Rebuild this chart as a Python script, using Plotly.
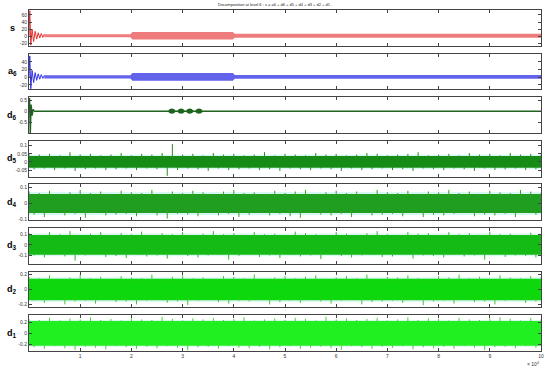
import numpy as np
import plotly.graph_objects as go
from plotly.subplots import make_subplots

x_ticks = [10000 * k for k in range(1, 11)]
x_tick_labels = ['1', '2', '3', '4', '5', '6', '7', '8', '9', '10']

# s : start transient, then envelope of the steady oscillation
s_transient_x = [0, 150, 350, 600, 900, 1200, 1500, 1800, 2100, 2400, 2700, 3000]
s_transient_y = [0, 72, -25, 20, -15, 14, -8, 10, -5, 8, -3, 6]
s_band_x = [3000, 19800, 20200, 39800, 40200, 100000]
s_band_hi = [6, 6, 12, 12, 7, 7]
s_band_lo = [-3, -3, -9, -9, -4, -4]

# a6
a6_transient_x = [0, 150, 350, 600, 900, 1200, 1500, 1800, 2100, 2400, 2700, 3000]
a6_transient_y = [0, 56, -30, 18, -14, 12, -8, 9, -5, 7, -3, 5]
a6_band_x = [3000, 19800, 20200, 39800, 40200, 100000]
a6_band_hi = [5, 5, 11, 11, 6, 6]
a6_band_lo = [-3, -3, -9, -9, -4, -4]

# d6 : start transient, thin line, four bursts near 3e4
d6_transient_x = [0, 100, 250, 400, 600, 800, 1000]
d6_transient_y = [0, 0.6, -1.0, 0.3, -0.2, 0.08, 0]
d6_env_x = [1000, 27200, 27500, 27900, 28300, 28600,
            29000, 29300, 29700, 30100, 30400,
            30700, 31000, 31400, 31800, 32100,
            32500, 32800, 33200, 33600, 33900, 100000]
d6_env_hi = [0.035, 0.035, 0.1, 0.12, 0.1, 0.035,
             0.035, 0.1, 0.12, 0.1, 0.035,
             0.035, 0.1, 0.12, 0.1, 0.035,
             0.035, 0.1, 0.12, 0.1, 0.035, 0.035]
d6_env_lo = [-0.035, -0.035, -0.1, -0.12, -0.1, -0.035,
             -0.035, -0.1, -0.12, -0.1, -0.035,
             -0.035, -0.1, -0.12, -0.1, -0.035,
             -0.035, -0.1, -0.12, -0.1, -0.035, -0.035]

# d5..d1 : local maxima (every 2000 samples) and minima (offset by 1000)
d5_up = [0.055, 0.045, 0.05, 0.04, 0.06, 0.045, 0.05, 0.04, 0.045, 0.055,
         0.04, 0.05, 0.045, 0.055, 0.11, 0.045, 0.05, 0.04, 0.055, 0.045,
         0.05, 0.04, 0.045, 0.06, 0.04, 0.05, 0.045, 0.04, 0.055, 0.045,
         0.05, 0.04, 0.045, 0.055, 0.05, 0.04, 0.045, 0.05, 0.06, 0.04,
         0.045, 0.05, 0.04, 0.055, 0.045, 0.05, 0.04, 0.055, 0.045, 0.05, 0.045]
d5_lo = [-0.045, -0.04, -0.05, -0.04, -0.055, -0.045, -0.04, -0.05, -0.045, -0.04,
         -0.05, -0.04, -0.045, -0.085, -0.05, -0.04, -0.045, -0.055, -0.04, -0.05,
         -0.045, -0.04, -0.05, -0.045, -0.055, -0.04, -0.045, -0.05, -0.04, -0.045,
         -0.055, -0.04, -0.05, -0.045, -0.04, -0.05, -0.045, -0.055, -0.04, -0.045,
         -0.05, -0.04, -0.045, -0.055, -0.04, -0.05, -0.045, -0.04, -0.05, -0.045]
d4_up = [0.075, 0.065, 0.08, 0.06, 0.07, 0.085, 0.065, 0.075, 0.06, 0.08,
         0.07, 0.065, 0.085, 0.06, 0.075, 0.065, 0.08, 0.07, 0.06, 0.075,
         0.085, 0.065, 0.07, 0.06, 0.08, 0.065, 0.075, 0.085, 0.06, 0.07,
         0.08, 0.065, 0.075, 0.06, 0.085, 0.07, 0.065, 0.08, 0.06, 0.075,
         0.07, 0.085, 0.065, 0.075, 0.06, 0.08, 0.07, 0.065, 0.085, 0.075, 0.065]
d4_lo = [-0.07, -0.085, -0.06, -0.075, -0.065, -0.09, -0.06, -0.075, -0.07, -0.065,
         -0.08, -0.06, -0.075, -0.095, -0.065, -0.07, -0.08, -0.06, -0.075, -0.065,
         -0.085, -0.07, -0.06, -0.075, -0.065, -0.08, -0.09, -0.06, -0.07, -0.075,
         -0.065, -0.085, -0.06, -0.075, -0.07, -0.065, -0.08, -0.06, -0.085, -0.07,
         -0.075, -0.065, -0.06, -0.08, -0.07, -0.075, -0.065, -0.085, -0.06, -0.07]
d3_up = [0.11, 0.095, 0.12, 0.1, 0.13, 0.095, 0.105, 0.12, 0.09, 0.11,
         0.1, 0.125, 0.095, 0.11, 0.1, 0.12, 0.09, 0.105, 0.13, 0.1,
         0.11, 0.095, 0.12, 0.1, 0.105, 0.09, 0.125, 0.11, 0.1, 0.095,
         0.12, 0.105, 0.09, 0.11, 0.13, 0.1, 0.095, 0.12, 0.105, 0.11,
         0.09, 0.12, 0.1, 0.11, 0.095, 0.125, 0.1, 0.105, 0.09, 0.115, 0.1]
d3_lo = [-0.1, -0.12, -0.095, -0.11, -0.15, -0.1, -0.09, -0.115, -0.105, -0.125,
         -0.095, -0.11, -0.1, -0.13, -0.09, -0.105, -0.12, -0.1, -0.095, -0.14,
         -0.105, -0.09, -0.115, -0.1, -0.125, -0.095, -0.11, -0.1, -0.135, -0.09,
         -0.105, -0.12, -0.1, -0.095, -0.115, -0.11, -0.09, -0.13, -0.1, -0.105,
         -0.12, -0.095, -0.11, -0.1, -0.14, -0.09, -0.115, -0.1, -0.105, -0.12]
d2_up = [0.17, 0.15, 0.19, 0.14, 0.16, 0.2, 0.15, 0.17, 0.14, 0.18,
         0.16, 0.15, 0.2, 0.14, 0.17, 0.19, 0.15, 0.16, 0.14, 0.18,
         0.17, 0.15, 0.2, 0.14, 0.16, 0.18, 0.15, 0.17, 0.19, 0.14,
         0.16, 0.18, 0.15, 0.2, 0.14, 0.17, 0.16, 0.19, 0.15, 0.14,
         0.18, 0.16, 0.2, 0.15, 0.17, 0.14, 0.19, 0.16, 0.15, 0.18, 0.16]
d2_lo = [-0.15, -0.18, -0.14, -0.2, -0.16, -0.15, -0.19, -0.14, -0.17, -0.16,
         -0.2, -0.15, -0.14, -0.18, -0.16, -0.21, -0.15, -0.14, -0.17, -0.19,
         -0.15, -0.16, -0.14, -0.2, -0.17, -0.15, -0.18, -0.14, -0.16, -0.19,
         -0.15, -0.14, -0.2, -0.17, -0.16, -0.15, -0.18, -0.14, -0.21, -0.16,
         -0.15, -0.19, -0.14, -0.17, -0.16, -0.2, -0.15, -0.14, -0.18, -0.16]
d1_up = [0.27, 0.25, 0.29, 0.24, 0.28, 0.26, 0.3, 0.25, 0.27, 0.24,
         0.29, 0.26, 0.25, 0.31, 0.27, 0.24, 0.28, 0.26, 0.29, 0.25,
         0.27, 0.3, 0.24, 0.26, 0.28, 0.25, 0.29, 0.27, 0.24, 0.31,
         0.26, 0.28, 0.25, 0.27, 0.29, 0.24, 0.26, 0.3, 0.25, 0.28,
         0.27, 0.24, 0.29, 0.26, 0.25, 0.28, 0.3, 0.27, 0.24, 0.29, 0.26]
d1_lo = [-0.26, -0.29, -0.24, -0.28, -0.31, -0.25, -0.27, -0.3, -0.24, -0.26,
         -0.29, -0.25, -0.28, -0.24, -0.27, -0.32, -0.26, -0.25, -0.29, -0.24,
         -0.27, -0.28, -0.25, -0.3, -0.26, -0.24, -0.29, -0.27, -0.25, -0.28,
         -0.31, -0.24, -0.26, -0.29, -0.25, -0.27, -0.24, -0.3, -0.26, -0.28,
         -0.25, -0.29, -0.24, -0.27, -0.31, -0.26, -0.25, -0.28, -0.24, -0.27]
# solid part, ragged fringe and faint halo of each detail band
core = {'d5': 0.026, 'd4': 0.047, 'd3': 0.078, 'd2': 0.118, 'd1': 0.2}
fringe = {'d5': 0.036, 'd4': 0.06, 'd3': 0.093, 'd2': 0.143, 'd1': 0.232}
halo = {'d5': 0.045, 'd4': 0.072, 'd3': 0.108, 'd2': 0.163, 'd1': 0.25}

names = ['s', 'a6', 'd6', 'd5', 'd4', 'd3', 'd2', 'd1']
labels = ['<b>s</b>', '<b>a<sub>6</sub></b>', '<b>d<sub>6</sub></b>', '<b>d<sub>5</sub></b>',
          '<b>d<sub>4</sub></b>', '<b>d<sub>3</sub></b>', '<b>d<sub>2</sub></b>', '<b>d<sub>1</sub></b>']
y_ranges = [[-27, 74], [-32, 62], [-1.0, 0.64], [-0.09, 0.13],
            [-0.105, 0.12], [-0.18, 0.16], [-0.24, 0.24], [-0.33, 0.34]]
y_ticks = [[-20, 0, 20, 40, 60], [-20, 0, 20, 40], [-0.5, 0, 0.5], [-0.05, 0, 0.05, 0.1],
           [-0.1, 0, 0.1], [-0.1, 0, 0.1], [-0.2, 0, 0.2], [-0.2, 0, 0.2]]
colors = {'s': '#e83030', 'a6': '#3030ee', 'd6': '#1e641e', 'd5': '#168c16',
          'd4': '#1f9e1f', 'd3': '#14bb14', 'd2': '#0cd80c', 'd1': '#20f020'}
spike_colors = {'d5': '#2f8a22', 'd4': '#3c9e2c', 'd3': '#3cb032', 'd2': '#48c23a',
                'd1': '#52d03c'}
band_colors = {'s': '#ef7c7c', 'a6': '#6262ea'}
halo_color = '#d9f6f3'


def add_band(fig, row, x, hi, lo, color, opacity=1.0):
    fig.add_trace(go.Scatter(x=x, y=hi, mode='lines', line=dict(width=0, color=color),
                             showlegend=False, hoverinfo='skip'), row=row, col=1)
    fig.add_trace(go.Scatter(x=x, y=lo, mode='lines', line=dict(width=0, color=color),
                             fill='tonexty', fillcolor=color, opacity=opacity,
                             showlegend=False, hoverinfo='skip'), row=row, col=1)


def add_noise(fig, row, name, up, lo):
    color = colors[name]
    full = [0, 100000]
    add_band(fig, row, full, [halo[name]] * 2, [-halo[name]] * 2, halo_color)
    add_band(fig, row, full, [fringe[name]] * 2, [-fringe[name]] * 2, color, 0.55)
    xs, ys = [], []
    for k, v in enumerate(up):
        xs += [k * 2000, k * 2000, None]
        ys += [0, v, None]
    for k, v in enumerate(lo):
        xs += [k * 2000 + 1000, k * 2000 + 1000, None]
        ys += [0, v, None]
    fig.add_trace(go.Scatter(x=xs, y=ys, mode='lines',
                             line=dict(width=1, color=spike_colors[name]),
                             showlegend=False), row=row, col=1)
    add_band(fig, row, full, [core[name]] * 2, [-core[name]] * 2, color)


fig = make_subplots(rows=8, cols=1, shared_xaxes=True, vertical_spacing=0.0226)

add_band(fig, 1, s_band_x, s_band_hi, s_band_lo, band_colors['s'])
fig.add_trace(go.Scatter(x=s_transient_x, y=s_transient_y, mode='lines',
                         line=dict(width=1, color=colors['s']), showlegend=False), row=1, col=1)
add_band(fig, 2, a6_band_x, a6_band_hi, a6_band_lo, band_colors['a6'])
fig.add_trace(go.Scatter(x=a6_transient_x, y=a6_transient_y, mode='lines',
                         line=dict(width=1, color=colors['a6']), showlegend=False), row=2, col=1)
add_band(fig, 3, d6_env_x, d6_env_hi, d6_env_lo, colors['d6'])
fig.add_trace(go.Scatter(x=d6_transient_x, y=d6_transient_y, mode='lines',
                         line=dict(width=1.5, color=colors['d6']), showlegend=False), row=3, col=1)
add_noise(fig, 4, 'd5', d5_up, d5_lo)
add_noise(fig, 5, 'd4', d4_up, d4_lo)
add_noise(fig, 6, 'd3', d3_up, d3_lo)
add_noise(fig, 7, 'd2', d2_up, d2_lo)
add_noise(fig, 8, 'd1', d1_up, d1_lo)

axis_font = dict(family='Liberation Sans, Arial', size=5, color='#333')
for i in range(8):
    row = i + 1
    fig.update_xaxes(range=[0, 100000], tickvals=x_ticks, ticktext=x_tick_labels,
                     ticks='inside', ticklen=3, tickcolor='#444', showline=True,
                     linecolor='#444', linewidth=1, mirror='ticks', showgrid=False,
                     zeroline=False, tickfont=axis_font, showticklabels=(row == 8),
                     row=row, col=1)
    fig.update_yaxes(range=y_ranges[i], tickvals=y_ticks[i],
                     ticktext=[('%g' % v) for v in y_ticks[i]],
                     ticks='inside', ticklen=3, tickcolor='#444', showline=True,
                     linecolor='#444', linewidth=1, mirror='ticks', showgrid=False,
                     zeroline=False, tickfont=axis_font, row=row, col=1)
    yref = 'y domain' if row == 1 else 'y%d domain' % row
    fig.add_annotation(text=labels[i], xref='paper', yref=yref, x=-0.033, y=0.5,
                       xanchor='center', yanchor='middle', showarrow=False,
                       font=dict(family='Liberation Sans, Arial', size=9, color='black'))

fig.add_annotation(text='Decomposition at level 6 : s = a6 + d6 + d5 + d4 + d3 + d2 + d1 .',
                   xref='paper', yref='paper', x=0.48, y=1.0, yshift=6, showarrow=False,
                   xanchor='center', yanchor='middle',
                   font=dict(family='Liberation Sans, Arial', size=4, color='#222'))
fig.add_annotation(text='\u00d7 10<sup>4</sup>', xref='paper', yref='paper', x=0.985, y=0,
                   yshift=-13, showarrow=False, xanchor='center', yanchor='middle',
                   font=dict(family='Liberation Sans, Arial', size=5, color='#333'))

fig.update_layout(width=550, height=371, margin=dict(l=29, r=6, t=10, b=20),
                  plot_bgcolor='white', paper_bgcolor='white', showlegend=False)
fig.write_html('out.html', config={'displayModeBar': False},
               post_script="document.body.style.margin='0';")
